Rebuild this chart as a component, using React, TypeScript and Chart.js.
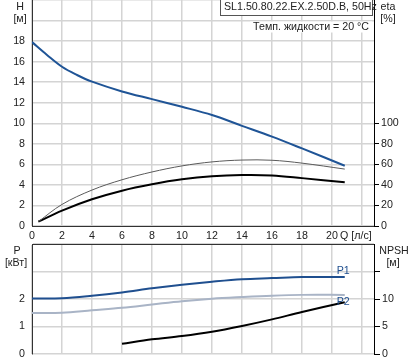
import React, { useEffect, useRef } from "react";
import { Chart, registerables } from "chart.js";

Chart.register(...registerables);

// ---- data ----
const qTicks = [0, 2, 4, 6, 8, 10, 12, 14, 16, 18, 20, 22];
const hTicks = [0, 2, 4, 6, 8, 10, 12, 14, 16, 18, 20, 22];
const etaTicks = [0, 20, 40, 60, 80, 100];
const pTicks = [0, 1, 2, 3, 4];
const npshTicks = [0, 5, 10, 15];

const qH = [0, 1, 2, 3, 4, 6, 8, 10, 12, 14, 16, 18, 20.85];
const headH = [17.9, 16.65, 15.5, 14.7, 14.05, 13.1, 12.35, 11.6, 10.8, 9.75, 8.7, 7.55, 5.87];

const qEta = [0.42, 2, 4, 6, 8, 10, 12, 14, 16, 18, 20.85];
const etaPump = [4.2, 21, 35, 45, 52.6, 58.5, 62.4, 64.2, 64, 61.2, 55.4];
const etaTotal = [4.2, 15, 26, 34.4, 40.6, 45.4, 48.4, 49.6, 49.2, 46.6, 42.5];

const qP = [0, 2, 4, 6, 8, 10, 12, 14, 16, 18, 20.85];
const powerP1 = [2.02, 2.03, 2.12, 2.24, 2.39, 2.52, 2.63, 2.72, 2.76, 2.8, 2.8];
const powerP2 = [1.49, 1.5, 1.59, 1.68, 1.8, 1.92, 2.01, 2.07, 2.12, 2.15, 2.15];

const qNpsh = [6, 8, 10, 12, 14, 16, 18, 20.85];
const npshValues = [1.87, 2.67, 3.27, 4.05, 5.1, 6.3, 7.64, 9.4];

const title = "SL1.50.80.22.EX.2.50D.B, 50Hz";
const tempText = "Темп. жидкости = 20 °C";

// ---- styles ----
const FONT = "Liberation Sans";
const FS = 10.67;
const TXT = "#222";
const GRID = "#d4d4d4";
const AXIS = "#333";

const pts = (xs: number[], ys: number[]) => xs.map((x, i) => ({ x, y: ys[i] }));
const setTicks = (vals: number[]) => (axis: any) => {
  axis.ticks = vals.map((v) => ({ value: v }));
};
const fix = (dim: "width" | "height", v: number) => (s: any) => {
  s[dim] = v;
  s.paddingTop = 0;
  s.paddingBottom = 0;
  s.paddingLeft = 0;
  s.paddingRight = 0;
};
const font = { family: FONT, size: FS };

function text(ctx: CanvasRenderingContext2D, s: string, x: number, y: number, align: CanvasTextAlign = "center", color = TXT) {
  ctx.save();
  ctx.font = `${FS}px "${FONT}"`;
  ctx.fillStyle = color;
  ctx.textAlign = align;
  ctx.textBaseline = "middle";
  ctx.fillText(s, x, y);
  ctx.restore();
}

const topLabels = {
  id: "topLabels",
  afterDraw(chart: any) {
    const ctx: CanvasRenderingContext2D = chart.ctx;
    text(ctx, "H", 20, 7);
    text(ctx, "[м]", 20, 19.5);
    text(ctx, "eta", 388, 7);
    text(ctx, "[%]", 388, 19.5);
    // Q axis title
    text(ctx, "Q [л/с]", 340, 236, "left");
    // temperature text with white backing
    ctx.save();
    ctx.font = `${FS}px "${FONT}"`;
    const w = ctx.measureText(tempText).width;
    ctx.fillStyle = "#fff";
    ctx.fillRect(369 - w - 3, 21.5, w + 6, 11);
    ctx.restore();
    text(ctx, tempText, 369, 27, "right");
    // title box
    ctx.save();
    ctx.fillStyle = "#fff";
    ctx.fillRect(220, 0, 153, 16);
    ctx.strokeStyle = "#555";
    ctx.lineWidth = 1;
    ctx.strokeRect(220.5, -0.5, 152, 16);
    ctx.restore();
    text(ctx, title, 224, 7.5, "left");
  },
};

const bottomLabels = {
  id: "bottomLabels",
  afterDraw(chart: any) {
    const ctx: CanvasRenderingContext2D = chart.ctx;
    text(ctx, "P", 17, 15);
    text(ctx, "[кВт]", 16, 27.5);
    text(ctx, "NPSH", 394, 15);
    text(ctx, "[м]", 393, 27.5);
    const xs = chart.scales.x;
    const ys = chart.scales.y;
    const lx = xs.getPixelForValue(qP[qP.length - 1]) - 8;
    text(ctx, "P1", lx, ys.getPixelForValue(powerP1[powerP1.length - 1]) - 6, "left", "#1f4f8f");
    text(ctx, "P2", lx, ys.getPixelForValue(powerP2[powerP2.length - 1]) + 7, "left", "#1f4f8f");
  },
};

export default function App() {
  const topRef = useRef<HTMLCanvasElement>(null);
  const botRef = useRef<HTMLCanvasElement>(null);

  useEffect(() => {
    const common = {
      animation: false as const,
      responsive: false,
      maintainAspectRatio: false,
      events: [] as any[],
      plugins: { legend: { display: false }, tooltip: { enabled: false } },
    };
    const line = { pointRadius: 0, tension: 0.35, fill: false };

    const top = new Chart(topRef.current!, {
      type: "line",
      data: {
        datasets: [
          { ...line, data: pts(qEta, etaPump), yAxisID: "eta", borderColor: "#5a5a5a", borderWidth: 1 },
          { ...line, data: pts(qEta, etaTotal), yAxisID: "eta", borderColor: "#000", borderWidth: 2 },
          { ...line, data: pts(qH, headH), yAxisID: "y", borderColor: "#1f5496", borderWidth: 2 },
        ],
      },
      options: {
        ...common,
        layout: { padding: 0 },
        scales: {
          x: {
            type: "linear",
            position: "bottom",
            min: 0,
            max: 22.8,
            afterBuildTicks: setTicks(qTicks),
            afterFit: fix("height", 18),
            ticks: { font, color: TXT, padding: 4, maxRotation: 0, callback: (v: any) => (v === 22 ? "" : String(v)) },
            grid: { color: GRID, lineWidth: 1.5, drawTicks: false },
            border: { color: AXIS, width: 1 },
          },
          y: {
            type: "linear",
            position: "left",
            min: 0,
            max: 22,
            afterBuildTicks: setTicks(hTicks),
            afterFit: fix("width", 32),
            ticks: { font, color: TXT, padding: 7, callback: (v: any) => (v > 18 ? "" : String(v)) },
            grid: { color: GRID, lineWidth: 1.5, drawTicks: false },
            border: { color: AXIS, width: 1 },
          },
          eta: {
            type: "linear",
            position: "right",
            min: 0,
            max: 220,
            afterBuildTicks: setTicks(etaTicks),
            afterFit: fix("width", 40),
            ticks: { font, color: TXT, padding: 2 },
            grid: { drawOnChartArea: false, drawTicks: true, tickLength: 5, color: "#000" },
            border: { color: "#000", width: 1 },
          },
        },
      },
      plugins: [topLabels],
    } as any);

    const bottom = new Chart(botRef.current!, {
      type: "line",
      data: {
        datasets: [
          { ...line, data: pts(qP, powerP2), yAxisID: "y", borderColor: "#a9b4c6", borderWidth: 2 },
          { ...line, data: pts(qP, powerP1), yAxisID: "y", borderColor: "#1f4f8f", borderWidth: 2 },
          { ...line, data: pts(qNpsh, npshValues), yAxisID: "npsh", borderColor: "#000", borderWidth: 2 },
        ],
      },
      options: {
        ...common,
        layout: { padding: { top: 8, bottom: 8, left: 0, right: 0 } },
        scales: {
          x: {
            type: "linear",
            position: "top",
            min: 0,
            max: 22.8,
            afterBuildTicks: setTicks(qTicks),
            afterFit: fix("height", 0),
            ticks: { display: false },
            grid: { color: GRID, lineWidth: 1.5, drawTicks: false },
            border: { color: AXIS, width: 1 },
          },
          y: {
            type: "linear",
            position: "left",
            min: 0,
            max: 4,
            afterBuildTicks: setTicks(pTicks),
            afterFit: fix("width", 32),
            ticks: { font, color: TXT, padding: 7, callback: (v: any) => (v > 2 ? "" : String(v)) },
            grid: { color: GRID, lineWidth: 1.5, drawTicks: false },
            border: { color: AXIS, width: 1 },
          },
          npsh: {
            type: "linear",
            position: "right",
            min: 0,
            max: 20,
            afterBuildTicks: setTicks(npshTicks),
            afterFit: fix("width", 40),
            ticks: { font, color: TXT, padding: 2, callback: (v: any) => (v > 10 ? "" : String(v)) },
            grid: { drawOnChartArea: false, drawTicks: true, tickLength: 6, color: "#000" },
            border: { color: "#000", width: 1 },
          },
        },
      },
      plugins: [bottomLabels],
    } as any);

    return () => {
      top.destroy();
      bottom.destroy();
    };
  }, []);

  return (
    <div style={{ position: "absolute", left: 0, top: 0, width: 414, height: 362, background: "#fff", overflow: "hidden" }}>
      <canvas ref={topRef} width={414} height={244} style={{ position: "absolute", left: 0, top: 0 }} />
      <canvas ref={botRef} width={414} height={126} style={{ position: "absolute", left: 0, top: 236 }} />
    </div>
  );
}
